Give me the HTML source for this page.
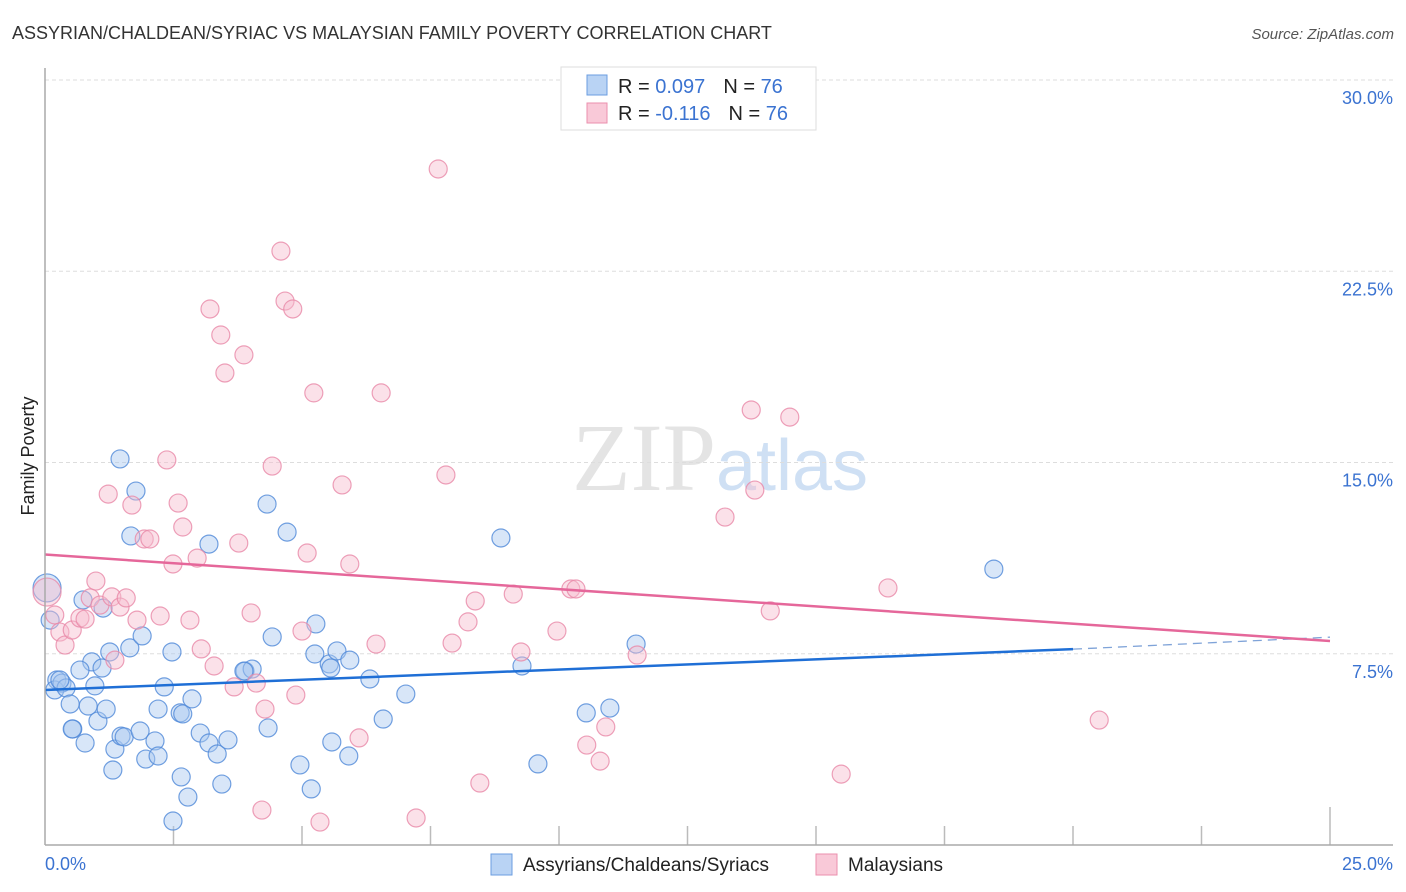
<!DOCTYPE html>
<html><head><meta charset="utf-8">
<style>
body{margin:0;background:#fff;font-family:"Liberation Sans",sans-serif;}
svg{display:block}
</style></head>
<body>
<svg id="chart" width="1406" height="892" viewBox="0 0 1406 892" xmlns="http://www.w3.org/2000/svg">
<text x="12" y="39" font-size="18" fill="#333">ASSYRIAN/CHALDEAN/SYRIAC VS MALAYSIAN FAMILY POVERTY CORRELATION CHART</text>
<text x="1394" y="39" font-size="15" fill="#555" text-anchor="end" font-style="italic">Source: ZipAtlas.com</text>
<text x="720" y="490" font-size="96" fill="#e4e4e4" text-anchor="middle" font-family="Liberation Serif,serif">ZIP<tspan fill="#cfe0f4" font-family="Liberation Sans,sans-serif" font-size="72">atlas</tspan></text>
<text transform="translate(34,456) rotate(-90)" font-size="18" fill="#222" text-anchor="middle">Family Poverty</text>
<g id="grid"></g>
<g id="marks"></g>
<g id="trends"></g>
<line x1="45" y1="68" x2="45" y2="845" stroke="#aaa" stroke-width="1.5"/>
<line x1="45" y1="845" x2="1393" y2="845" stroke="#aaa" stroke-width="1.5"/>
<text x="45" y="870" font-size="18" fill="#3b73d1">0.0%</text>
<text x="1393" y="870" font-size="18" fill="#3b73d1" text-anchor="end">25.0%</text>
<g>
<rect x="561" y="67" width="255" height="63" fill="#fff" stroke="#ddd"/>
<rect x="587" y="75" width="20" height="20" fill="#b9d3f4" stroke="#6b9ee0"/>
<rect x="587" y="103" width="20" height="20" fill="#f9c9d8" stroke="#eb8fae"/>
<text x="618" y="93" font-size="20" fill="#222">R = <tspan fill="#3b73d1">0.097</tspan><tspan dx="18">N = </tspan><tspan fill="#3b73d1">76</tspan></text>
<text x="618" y="120" font-size="20" fill="#222">R = <tspan fill="#3b73d1">-0.116</tspan><tspan dx="18">N = </tspan><tspan fill="#3b73d1">76</tspan></text>
</g>
<g>
<rect x="491" y="854" width="21" height="21" fill="#b9d3f4" stroke="#6b9ee0"/>
<text x="523" y="871" font-size="19" fill="#222">Assyrians/Chaldeans/Syriacs</text>
<rect x="816" y="854" width="21" height="21" fill="#f9c9d8" stroke="#eb8fae"/>
<text x="848" y="871" font-size="19" fill="#222">Malaysians</text>
</g>
</svg>
<script>
const yTicks=[7.5,15,22.5,30];
const yTickLabels=["7.5%","15.0%","22.5%","30.0%"];
const xTicks=[2.5,5,7.5,10,12.5,15,17.5,20,22.5,25];
const blueX=[0.04,0.10,0.23,0.19,0.33,0.41,0.29,0.74,1.13,1.46,1.77,1.67,0.91,0.68,0.97,1.11,1.26,1.65,1.89,0.84,0.49,0.54,0.53,1.03,1.19,0.78,1.32,1.36,1.48,1.54,1.85,2.14,1.96,2.20,2.32,2.20,2.47,2.63,2.68,2.86,2.65,2.78,2.49,3.02,3.19,3.19,3.35,3.56,3.44,3.89,4.03,3.87,4.32,4.71,4.42,4.34,4.96,5.18,5.25,5.27,5.53,5.56,5.68,5.93,5.58,5.91,6.32,6.58,7.02,8.87,9.28,9.59,10.53,10.99,11.50,18.46];
const blueY=[10.08,8.82,6.47,6.08,6.35,6.16,6.47,9.61,9.29,15.14,13.88,12.12,7.18,6.86,6.24,6.94,7.57,7.73,8.20,5.45,5.53,4.55,4.55,4.86,5.33,4.00,2.94,3.76,4.27,4.24,4.47,4.08,3.37,3.49,6.20,5.33,7.57,5.18,5.14,5.73,2.67,1.88,0.94,4.39,11.80,4.00,3.57,4.12,2.39,6.82,6.90,6.82,13.37,12.27,8.16,4.59,3.14,2.20,7.49,8.67,7.10,6.94,7.61,7.25,4.04,3.49,6.51,4.94,5.92,12.04,7.02,3.18,5.18,5.37,7.88,10.82];
const pinkX=[0.04,0.19,0.29,0.39,0.53,0.68,0.78,0.88,0.99,1.07,1.30,1.46,1.58,1.23,1.36,1.69,1.93,2.04,1.79,2.24,2.37,2.49,2.59,2.68,2.82,2.96,3.04,3.29,3.21,3.42,3.50,3.87,3.77,4.01,3.68,4.11,4.28,4.22,4.42,4.59,4.67,4.82,4.88,5.00,5.10,5.23,5.35,5.78,5.93,6.11,6.44,6.54,7.22,7.65,7.80,7.92,8.23,8.37,8.46,9.11,9.26,9.96,10.23,10.33,10.54,10.80,10.91,11.52,13.23,13.74,13.81,14.11,14.49,15.49,16.40,20.51];
const pinkY=[9.92,9.02,8.35,7.84,8.43,8.90,8.86,9.69,10.35,9.41,9.73,9.33,9.69,13.76,7.25,13.33,12.00,12.00,8.82,8.98,15.10,11.02,13.41,12.47,8.82,11.25,7.69,7.02,21.02,20.00,18.51,19.22,11.84,9.10,6.20,6.35,5.33,1.37,14.86,23.29,21.33,21.02,5.88,8.39,11.45,17.73,0.90,14.12,11.02,4.20,7.88,17.73,1.06,26.51,14.51,7.92,8.75,9.57,2.43,9.84,7.57,8.39,10.04,10.04,3.92,3.29,4.63,7.45,12.86,17.06,13.92,9.18,16.78,2.78,10.08,4.90];
const blueTrend=[0,6.08,20,7.68,25,8.15];
const pinkTrend=[0,11.39,25,8.00];
const NS="http://www.w3.org/2000/svg";
const X0=45,X1=1330,Y0=845,Y30=80;
function sx(v){return X0+(X1-X0)*v/25;}
function sy(v){return Y0-(Y0-Y30)*v/30;}
function mk(tag,attrs,parent){const e=document.createElementNS(NS,tag);for(const k in attrs)e.setAttribute(k,attrs[k]);parent.appendChild(e);return e;}
const grid=document.getElementById('grid');
yTicks.forEach((t,i)=>{
  const l=mk('line',{x1:45,x2:1393,y1:sy(t),y2:sy(t),stroke:'#ddd','stroke-dasharray':'4,3'},grid);
  
  
  const tx=mk('text',{x:1393,y:sy(t)+24,'font-size':18,fill:'#3b73d1','text-anchor':'end'},grid);
  tx.textContent=yTickLabels[i];
  
  
});
xTicks.forEach(t=>{
  const l=mk('line',{x1:sx(t),x2:sx(t),y1:t===25?807:826,y2:845,stroke:'#bbb','stroke-width':1.5},grid);
  
  
});
const marks=document.getElementById('marks');
function dots(xs,ys,fill,stroke,name){
  xs.forEach((x,i)=>{
    const c=mk('circle',{cx:sx(x),cy:sy(ys[i]),r:i===0?14:9,fill:fill,'fill-opacity':0.45,stroke:stroke,'stroke-width':1.2,'stroke-opacity':0.8},marks);
    
    
  });
}
dots(blueX,blueY,'#a9c8f0','#4f88d8','blue-point');
dots(pinkX,pinkY,'#f7bccf','#e888a8','pink-point');
const tr=document.getElementById('trends');
const b1=mk('line',{x1:sx(blueTrend[0]),y1:sy(blueTrend[1]),x2:sx(blueTrend[2]),y2:sy(blueTrend[3]),stroke:'#1f6fd6','stroke-width':2.5},tr);


const b2=mk('line',{x1:sx(blueTrend[2]),y1:sy(blueTrend[3]),x2:sx(blueTrend[4]),y2:sy(blueTrend[5]),stroke:'#7fa3d8','stroke-width':1.3,'stroke-dasharray':'9,6'},tr);


const p1=mk('line',{x1:sx(pinkTrend[0]),y1:sy(pinkTrend[1]),x2:sx(pinkTrend[2]),y2:sy(pinkTrend[3]),stroke:'#e5679a','stroke-width':2.5},tr);


</script>
</body></html>
